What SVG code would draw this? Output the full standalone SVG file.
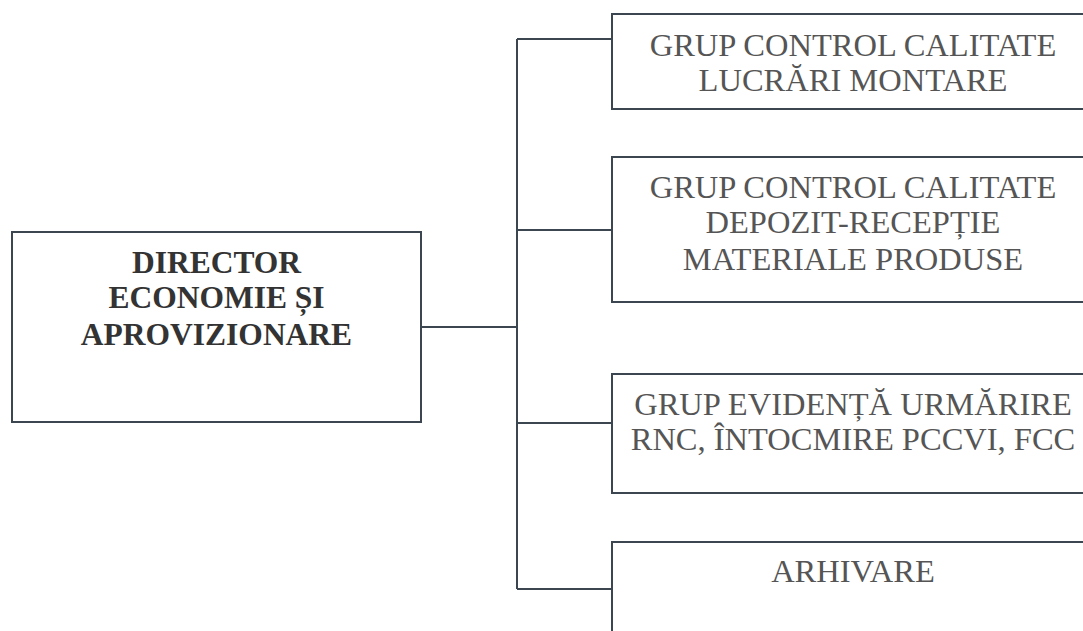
<svg xmlns="http://www.w3.org/2000/svg" width="1083" height="631" viewBox="0 0 1083 631">
<style>
.box{fill:#fff;stroke:#3c4650;stroke-width:2}
.ln{fill:none;stroke:#3c4650;stroke-width:2}
.t{font-family:"Liberation Serif","Times New Roman",serif;font-size:32.5px;fill:#555;text-anchor:middle}
.tb{font-family:"Liberation Serif","Times New Roman",serif;font-size:31.5px;font-weight:bold;fill:#333;text-anchor:middle}
</style>
<rect width="1083" height="631" fill="#fff"/>
<g id="connectors">
<path class="ln" d="M421 327H517M517 39V589M517 39H612M517 230H612M517 423H612M517 589H612"/>
</g>
<g id="director">
<rect class="box" x="12" y="232" width="409" height="190"/>
<text class="tb" x="216.5" y="273">DIRECTOR</text>
<text class="tb" x="216.5" y="308">ECONOMIE ȘI</text>
<text class="tb" x="216.5" y="345">APROVIZIONARE</text>
</g>
<g id="grup-lucrari">
<rect class="box" x="612" y="14" width="490" height="95"/>
<text class="t" x="853" y="56">GRUP CONTROL CALITATE</text>
<text class="t" x="853" y="91">LUCRĂRI MONTARE</text>
</g>
<g id="grup-depozit">
<rect class="box" x="612" y="157" width="490" height="145"/>
<text class="t" x="853" y="198">GRUP CONTROL CALITATE</text>
<text class="t" x="853" y="233">DEPOZIT-RECEPȚIE</text>
<text class="t" x="853" y="270">MATERIALE PRODUSE</text>
</g>
<g id="grup-evidenta">
<rect class="box" x="612" y="374" width="490" height="119"/>
<text class="t" x="853" y="415">GRUP EVIDENȚĂ URMĂRIRE</text>
<text class="t" x="853" y="450">RNC, ÎNTOCMIRE PCCVI, FCC</text>
</g>
<g id="arhivare">
<rect class="box" x="612" y="542" width="490" height="120"/>
<text class="t" x="853" y="582">ARHIVARE</text>
</g>
</svg>
